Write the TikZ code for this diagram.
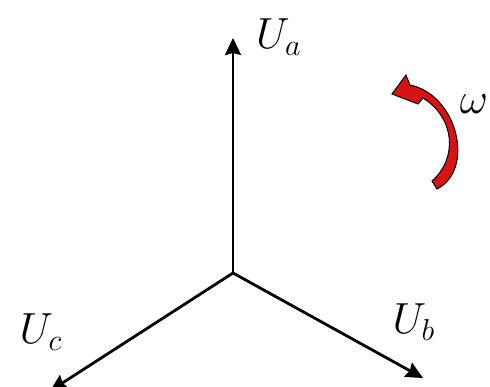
\documentclass[tikz,border=0pt]{standalone}
\usetikzlibrary{arrows.meta}
\tikzset{
  phasor/.style={line width=2.8pt,-{Stealth[length=17pt,width=16pt,inset=2pt]}},
  lbl/.style={inner sep=0pt,font=\huge,scale=2.1,transform shape},
  rotarrow/.style={fill={rgb,255:red,215;green,20;blue,20},draw=black,line width=1pt,line join=miter}
}
\begin{document}
\begin{tikzpicture}[x=1pt,y=-1pt]
\useasboundingbox (0,0) rectangle (490,387);
\coordinate (O) at (233,273);
\coordinate (A) at (233,38);
\coordinate (B) at (423,378);
\coordinate (C) at (50,391);
\draw[phasor] (O) -- (A);
\draw[phasor] (O) -- (B);
\draw[phasor] (O) -- (C);
\node[lbl] (la) at (279,37) {$U_a$};
\node[lbl] (lb) at (414,322) {$U_b$};
\node[lbl] (lc) at (41,332) {$U_c$};
\node[lbl] (lw) at (474,104) {$\omega$};
\path[rotarrow] (432,181) .. controls (458,158) and (455,118) .. (423,98)
  -- (418,104) -- (392,94) -- (406,75) -- (410,85)
  .. controls (458,95) and (475,170) .. (437,189) -- cycle;
\end{tikzpicture}
\end{document}
